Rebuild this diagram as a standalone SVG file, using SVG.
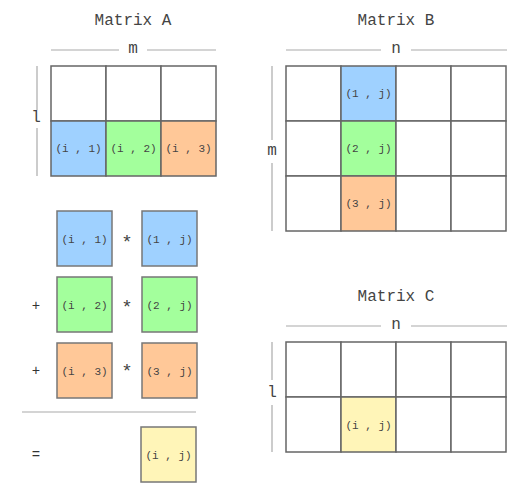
<svg xmlns="http://www.w3.org/2000/svg" width="529" height="492" viewBox="0 0 529 492">
<style>
.title{font-family:"Liberation Mono","DejaVu Sans Mono",monospace;font-size:16px;fill:#444;text-anchor:middle}
.dim{font-family:"Liberation Mono","DejaVu Sans Mono",monospace;font-size:16px;fill:#444;text-anchor:middle;dominant-baseline:central}
.lbl{font-family:"Liberation Mono","DejaVu Sans Mono",monospace;font-size:11px;fill:#444;text-anchor:middle;dominant-baseline:central}
.op{font-family:"Liberation Mono","DejaVu Sans Mono",monospace;font-size:14px;fill:#333;text-anchor:middle;dominant-baseline:central}
.ast{font-family:"Liberation Mono","DejaVu Sans Mono",monospace;font-size:19px;fill:#444;text-anchor:middle}
.cell{fill:#fff;stroke:#666;stroke-width:1.5}
.box{stroke:#777;stroke-width:1.5}
.dl{stroke:#aaa;stroke-width:1.2;fill:none}
.b{fill:#9fd1ff}.g{fill:#a3ff9c}.o{fill:#ffc898}.y{fill:#fff5b8}
</style>

<g id="matrixA">
<text class="title" x="133" y="25">Matrix A</text>
<line class="dl" x1="51" y1="50" x2="119" y2="50"/>
<line class="dl" x1="147" y1="50" x2="216" y2="50"/>
<text class="dim" x="133" y="49">m</text>
<line class="dl" x1="37" y1="66" x2="37" y2="110"/>
<line class="dl" x1="37" y1="128" x2="37" y2="176"/>
<text class="dim" x="36" y="118">l</text>
<rect class="cell" x="51" y="66" width="55" height="55"/>
<rect class="cell" x="106" y="66" width="55" height="55"/>
<rect class="cell" x="161" y="66" width="55" height="55"/>
<rect class="cell b" x="51" y="121" width="55" height="55"/>
<rect class="cell g" x="106" y="121" width="55" height="55"/>
<rect class="cell o" x="161" y="121" width="55" height="55"/>
<text class="lbl" x="78.5" y="149">(i , 1)</text>
<text class="lbl" x="133.5" y="149">(i , 2)</text>
<text class="lbl" x="188.5" y="149">(i , 3)</text>
</g>

<g id="matrixB">
<text class="title" x="396" y="25">Matrix B</text>
<line class="dl" x1="286" y1="50" x2="381" y2="50"/>
<line class="dl" x1="411" y1="50" x2="507" y2="50"/>
<text class="dim" x="396" y="49">n</text>
<line class="dl" x1="272" y1="66" x2="272" y2="140"/>
<line class="dl" x1="272" y1="163" x2="272" y2="231"/>
<text class="dim" x="272" y="151">m</text>
<rect class="cell" x="286" y="66" width="55" height="55"/>
<rect class="cell b" x="341" y="66" width="55" height="55"/>
<rect class="cell" x="396" y="66" width="55" height="55"/>
<rect class="cell" x="451" y="66" width="55" height="55"/>
<rect class="cell" x="286" y="121" width="55" height="55"/>
<rect class="cell g" x="341" y="121" width="55" height="55"/>
<rect class="cell" x="396" y="121" width="55" height="55"/>
<rect class="cell" x="451" y="121" width="55" height="55"/>
<rect class="cell" x="286" y="176" width="55" height="55"/>
<rect class="cell o" x="341" y="176" width="55" height="55"/>
<rect class="cell" x="396" y="176" width="55" height="55"/>
<rect class="cell" x="451" y="176" width="55" height="55"/>
<text class="lbl" x="368.5" y="94">(1 , j)</text>
<text class="lbl" x="368.5" y="149">(2 , j)</text>
<text class="lbl" x="368.5" y="204">(3 , j)</text>
</g>

<g id="matrixC">
<text class="title" x="396" y="301">Matrix C</text>
<line class="dl" x1="286" y1="326" x2="381" y2="326"/>
<line class="dl" x1="411" y1="326" x2="507" y2="326"/>
<text class="dim" x="396" y="325">n</text>
<line class="dl" x1="272" y1="342" x2="272" y2="380"/>
<line class="dl" x1="272" y1="405" x2="272" y2="452"/>
<text class="dim" x="272" y="393">l</text>
<rect class="cell" x="286" y="342" width="55" height="55"/>
<rect class="cell" x="341" y="342" width="55" height="55"/>
<rect class="cell" x="396" y="342" width="55" height="55"/>
<rect class="cell" x="451" y="342" width="55" height="55"/>
<rect class="cell" x="286" y="397" width="55" height="55"/>
<rect class="cell y" x="341" y="397" width="55" height="55"/>
<rect class="cell" x="396" y="397" width="55" height="55"/>
<rect class="cell" x="451" y="397" width="55" height="55"/>
<text class="lbl" x="368.5" y="426">(i , j)</text>
</g>

<g id="computation">
<rect class="box b" x="57" y="211" width="55" height="55"/>
<text class="lbl" x="84.5" y="240">(i , 1)</text>
<text class="ast" x="127" y="248">*</text>
<rect class="box b" x="142" y="211" width="55" height="55"/>
<text class="lbl" x="169.5" y="240">(1 , j)</text>

<text class="op" x="36" y="306">+</text>
<rect class="box g" x="57" y="277" width="55" height="55"/>
<text class="lbl" x="84.5" y="306">(i , 2)</text>
<text class="ast" x="127" y="313">*</text>
<rect class="box g" x="142" y="277" width="55" height="55"/>
<text class="lbl" x="169.5" y="306">(2 , j)</text>

<text class="op" x="36" y="371">+</text>
<rect class="box o" x="57" y="343" width="55" height="55"/>
<text class="lbl" x="84.5" y="372">(i , 3)</text>
<text class="ast" x="127" y="377">*</text>
<rect class="box o" x="142" y="343" width="55" height="55"/>
<text class="lbl" x="169.5" y="372">(3 , j)</text>

<line class="dl" x1="22" y1="412" x2="196" y2="412"/>

<text class="op" x="36" y="455">=</text>
<rect class="box y" x="141" y="427" width="55" height="55"/>
<text class="lbl" x="168.5" y="456">(i , j)</text>
</g>
</svg>
